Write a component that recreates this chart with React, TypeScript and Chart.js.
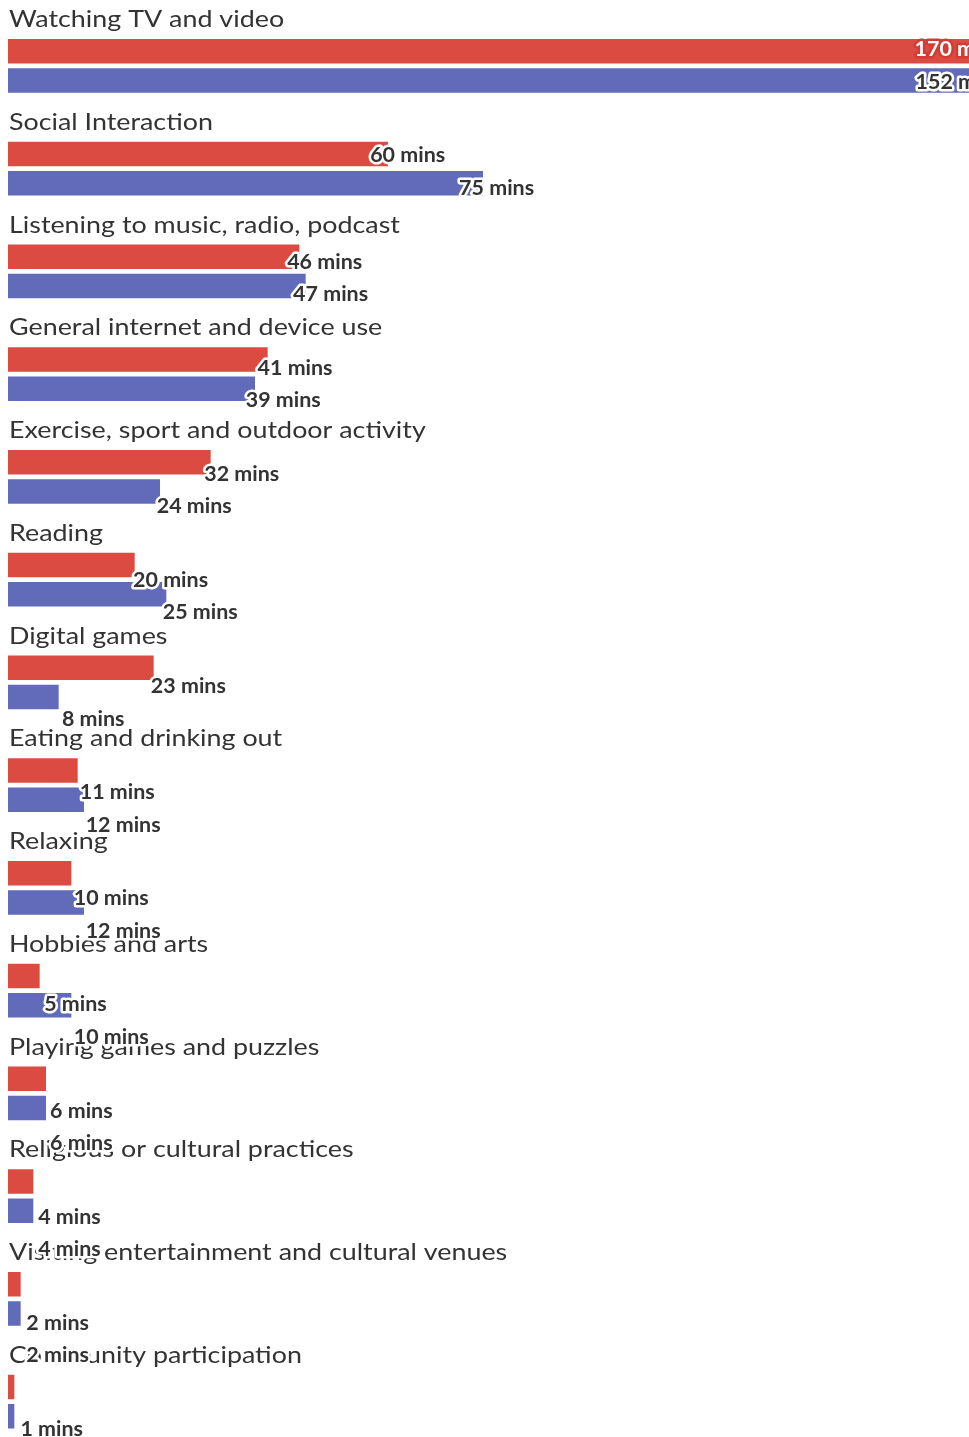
import React, { useEffect, useRef } from "react";
import { Chart, registerables } from "chart.js";

Chart.register(...registerables);

// ---- data ----
const categories = [
  "Watching TV and video",
  "Social Interaction",
  "Listening to music, radio, podcast",
  "General internet and device use",
  "Exercise, sport and outdoor activity",
  "Reading",
  "Digital games",
  "Eating and drinking out",
  "Relaxing",
  "Hobbies and arts",
  "Playing games and puzzles",
  "Religious or cultural practices",
  "Visiting entertainment and cultural venues",
  "Community participation",
];
const redValues = [170, 60, 46, 41, 32, 20, 23, 11, 10, 5, 6, 4, 2, 1];
const blueValues = [152, 75, 47, 39, 24, 25, 8, 12, 12, 10, 6, 4, 2, 1];
const seriesNames = ["Group 1", "Group 2"];
const valueSuffix = " mins";

// ---- styles / layout ----
const RED = "#dc4b42";
const RED_DARK = "#d33c32";
const BLUE = "#616bba";
const TEXT = "#333333";
const CANVAS_W = 1148;
const CANVAS_H = 1500;
const BAND = 102.75;
const TOP_PAD = 14.5;
// reference title widths used to fit the substitute font's width
const titleFit: [number, number][] = [
  [0, 267],
  [1, 206],
  [2, 395],
  [4, 416],
  [12, 501],
];

const annotatePlugin = {
  id: "annotate",
  afterDatasetsDraw(chart: any) {
    const ctx: CanvasRenderingContext2D = chart.ctx;
    const xs = chart.scales.x;
    const ys = chart.scales.y;
    const metas = [chart.getDatasetMeta(0), chart.getDatasetMeta(1)];
    ctx.save();

    // category titles
    ctx.font = "400 24px Lato";
    let tgt = 0;
    let meas = 0;
    titleFit.forEach(([i, w]) => {
      tgt += w;
      meas += ctx.measureText(categories[i]).width;
    });
    const tsx = tgt / meas;
    ctx.fillStyle = TEXT;
    ctx.textBaseline = "alphabetic";
    ctx.textAlign = "left";
    categories.forEach((c, i) => {
      const bar = metas[0].data[i];
      const top = bar.y - bar.height / 2;
      ctx.save();
      ctx.translate(9, top - 12);
      ctx.scale(tsx, 1);
      ctx.fillText(c, 0, 0);
      ctx.restore();
    });

    // value labels
    ctx.font = "700 21px Lato";
    const lsx = 75 / ctx.measureText("60" + valueSuffix).width;
    ctx.lineJoin = "round";
    ctx.lineWidth = 5;
    const c0 = ys.getPixelForValue(0);
    const series = [redValues, blueValues];
    const cols = [RED_DARK, BLUE];
    categories.forEach((_, i) => {
      const gc = ys.getPixelForValue(i);
      series.forEach((vals, d) => {
        const v = vals[i];
        const txt = v + valueSuffix;
        const w = ctx.measureText(txt).width * lsx;
        const cy = c0 - 17.2 + (gc - c0) * 1.0329 + d * 32.5;
        let left = xs.left + 6.5 + (xs.getPixelForValue(v) - xs.left) * 0.936;
        let fill = TEXT;
        let stroke = "#ffffff";
        if (left + w > 1015) {
          left = 1002 - w;
          fill = "#ffffff";
          stroke = cols[d];
        }
        ctx.save();
        ctx.translate(left, cy + 7.6);
        ctx.scale(lsx, 1);
        ctx.strokeStyle = stroke;
        ctx.fillStyle = fill;
        ctx.strokeText(txt, 0, 0);
        ctx.fillText(txt, 0, 0);
        ctx.restore();
      });
    });
    ctx.restore();
  },
};

export default function App() {
  const ref = useRef<HTMLCanvasElement | null>(null);
  useEffect(() => {
    if (!ref.current) return;
    const chart = new Chart(ref.current, {
      type: "bar",
      data: {
        labels: categories,
        datasets: [
          { label: seriesNames[0], data: redValues, backgroundColor: RED, borderWidth: 0 },
          { label: seriesNames[1], data: blueValues, backgroundColor: BLUE, borderWidth: 0 },
        ],
      },
      options: {
        indexAxis: "y",
        responsive: false,
        animation: false,
        datasets: { bar: { categoryPercentage: 0.5693, barPercentage: 0.8376 } } as any,
        layout: {
          padding: {
            left: 8,
            right: 0,
            top: TOP_PAD,
            bottom: CANVAS_H - TOP_PAD - categories.length * BAND,
          },
        },
        scales: {
          x: { display: false, min: 0, max: 180 },
          y: { display: false },
        },
        plugins: { legend: { display: false }, tooltip: { enabled: false } },
      },
      plugins: [annotatePlugin],
    });
    return () => chart.destroy();
  }, []);
  return (
    <div
      style={{
        position: "fixed",
        left: 0,
        top: 0,
        width: "100vw",
        height: "100vh",
        overflow: "hidden",
        background: "#ffffff",
      }}
    >
      <canvas
        ref={ref}
        width={CANVAS_W}
        height={CANVAS_H}
        style={{ position: "absolute", left: 0, top: 0, width: CANVAS_W, height: CANVAS_H }}
      />
    </div>
  );
}
